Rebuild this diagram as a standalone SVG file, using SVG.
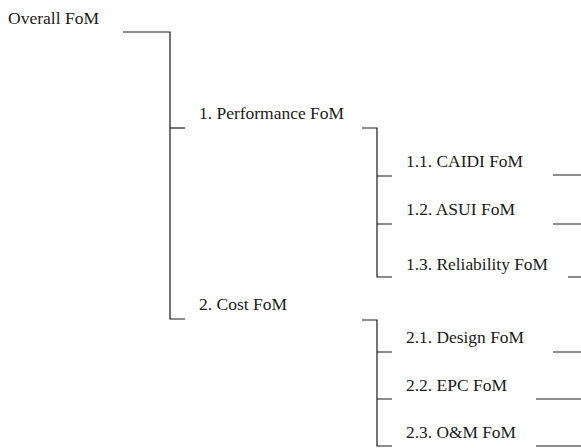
<svg xmlns="http://www.w3.org/2000/svg" width="581" height="448" viewBox="0 0 581 448">
<style>
text{font-family:"Liberation Serif","Times New Roman",serif;font-size:16.5px;fill:#1a1a1a}
.c{fill:none;stroke:#1a1a1a;stroke-width:1.2}
</style>
<rect width="581" height="448" fill="#fff"/>
<g id="connectors">
<path class="c" d="M123,32H170V319H185"/>
<path class="c" d="M170,128H185"/>
<path class="c" d="M362,128H377V277H392"/>
<path class="c" d="M377,176H392M377,224H392"/>
<path class="c" d="M362,320H377V446H392"/>
<path class="c" d="M377,352H392M377,399H392"/>
<path class="c" d="M553,175H581M553,224H581M568,277H581"/>
<path class="c" d="M553,352H581M536,399H581M536,446H581"/>
</g>
<g id="n0"><text x="8" y="24" textLength="91" lengthAdjust="spacingAndGlyphs">Overall FoM</text></g>
<g id="n1"><text x="199" y="119" textLength="145" lengthAdjust="spacingAndGlyphs">1. Performance FoM</text></g>
<g id="n11"><text x="406" y="167" textLength="117" lengthAdjust="spacingAndGlyphs">1.1. CAIDI FoM</text></g>
<g id="n12"><text x="406" y="215" textLength="109" lengthAdjust="spacingAndGlyphs">1.2. ASUI FoM</text></g>
<g id="n13"><text x="406" y="270" textLength="142" lengthAdjust="spacingAndGlyphs">1.3. Reliability FoM</text></g>
<g id="n2"><text x="199" y="310" textLength="88" lengthAdjust="spacingAndGlyphs">2. Cost FoM</text></g>
<g id="n21"><text x="406" y="343" textLength="118" lengthAdjust="spacingAndGlyphs">2.1. Design FoM</text></g>
<g id="n22"><text x="406" y="391" textLength="101" lengthAdjust="spacingAndGlyphs">2.2. EPC FoM</text></g>
<g id="n23"><text x="406" y="438" textLength="110" lengthAdjust="spacingAndGlyphs">2.3. O&amp;M FoM</text></g>
</svg>
